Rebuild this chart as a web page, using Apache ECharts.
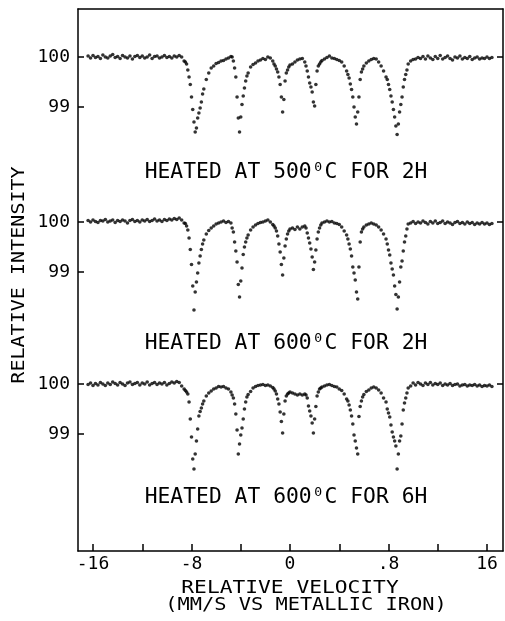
<!DOCTYPE html>
<html>
<head>
<meta charset="utf-8">
<script src="https://cdn.jsdelivr.net/npm/echarts@6/dist/echarts.min.js"></script>
<style>
html,body{margin:0;padding:0;background:#fff;}
#chart{width:505px;height:621px;}
</style>
</head>
<body>
<div id="chart"></div>
<script>
// ---- DATA ----
const velocity = [
-16.4,-16.2,-16.0,-15.8,-15.6,-15.4,-15.2,-15.0,-14.8,-14.6,
-14.4,-14.2,-14.0,-13.8,-13.6,-13.4,-13.2,-13.0,-12.8,-12.6,
-12.4,-12.2,-12.0,-11.8,-11.6,-11.4,-11.2,-11.0,-10.8,-10.6,
-10.4,-10.2,-10.0,-9.8,-9.6,-9.4,-9.2,-9.0,-8.8,-8.6,
-8.5,-8.4,-8.3,-8.2,-8.1,-8.0,-7.9,-7.8,-7.7,-7.6,-7.5,-7.4,-7.3,-7.2,-7.1,-7.0,
-6.8,-6.6,-6.4,-6.2,-6.0,-5.8,-5.6,-5.4,-5.2,-5.0,-4.8,
-4.7,-4.6,-4.5,-4.4,-4.3,-4.2,-4.1,-4.0,-3.9,-3.8,-3.7,-3.6,-3.5,-3.4,
-3.2,-3.0,-2.8,-2.6,-2.4,-2.2,-2.0,-1.8,-1.6,-1.4,
-1.3,-1.2,-1.1,-1.0,-0.9,-0.8,-0.7,-0.6,-0.5,-0.4,-0.3,-0.2,-0.1,
0.0,0.2,0.4,0.6,0.8,1.0,1.2,
1.3,1.4,1.5,1.6,1.7,1.8,1.9,2.0,2.1,2.2,2.3,2.4,2.5,
2.6,2.8,3.0,3.2,3.4,3.6,3.8,4.0,4.2,4.4,4.6,
4.7,4.8,4.9,5.0,5.1,5.2,5.3,5.4,5.5,5.6,5.7,5.8,5.9,
6.0,6.2,6.4,6.6,6.8,7.0,7.2,7.4,7.6,7.8,
7.9,8.0,8.1,8.2,8.3,8.4,8.5,8.6,8.7,8.8,8.9,9.0,9.1,9.2,9.3,9.4,9.5,9.6,
9.8,10.0,10.2,10.4,10.6,10.8,11.0,11.2,11.4,11.6,11.8,12.0,12.2,12.4,12.6,12.8,13.0,
13.2,13.4,13.6,13.8,14.0,14.2,14.4,14.6,14.8,15.0,15.2,15.4,15.6,15.8,16.0,16.2,16.4
];

const heated500C2h = [
100.02,99.98,100.03,99.99,100.01,99.97,100.04,100.0,99.98,100.02,
100.05,99.99,100.01,99.97,100.03,100.0,99.98,100.02,99.96,100.01,
100.03,99.99,100.02,99.98,100.0,100.04,99.97,100.01,100.02,99.98,
100.0,100.03,99.99,100.01,99.98,100.02,100.0,100.03,100.0,99.92,
99.90,99.86,99.74,99.6,99.45,99.2,98.95,98.7,98.5,98.58,98.78,98.88,98.98,99.1,99.26,99.36,
99.55,99.68,99.78,99.82,99.87,99.89,99.92,99.93,99.96,99.98,100.01,
100.0,99.92,99.78,99.6,99.2,98.78,98.5,98.8,99.05,99.22,99.38,99.52,99.62,99.68,
99.8,99.85,99.88,99.92,99.94,99.97,99.95,100.0,99.98,99.92,
99.86,99.82,99.76,99.7,99.6,99.45,99.2,98.9,99.15,99.52,99.68,99.74,99.8,
99.84,99.86,99.9,99.94,99.96,99.97,99.9,
99.82,99.72,99.6,99.48,99.4,99.3,99.1,99.02,99.45,99.72,99.82,99.86,99.9,
99.93,99.96,99.99,100.02,99.98,99.97,99.95,99.93,99.9,99.82,99.72,
99.65,99.58,99.46,99.35,99.2,99.0,98.8,98.66,98.9,99.2,99.55,99.7,99.76,
99.82,99.88,99.92,99.95,99.97,99.96,99.9,99.82,99.72,99.6,
99.55,99.45,99.35,99.22,99.1,98.95,98.8,98.62,98.45,98.66,98.9,99.05,99.2,99.4,99.55,99.65,99.74,99.86,
99.92,99.95,99.96,99.99,99.97,100.01,99.96,100.02,99.98,99.95,100.01,99.97,100.03,99.96,99.99,100.02,99.97,
99.94,100.0,99.98,100.02,99.96,99.99,99.97,100.01,99.95,99.98,100.0,99.96,99.98,99.97,100.0,99.97,99.99
];

const heated600C2h = [
100.03,100.0,100.04,100.01,99.99,100.03,100.02,100.05,100.0,100.02,
100.04,99.99,100.03,100.01,100.04,100.02,99.98,100.03,100.05,100.01,
100.03,100.0,100.04,100.02,100.05,100.01,100.03,100.06,100.02,100.04,
100.01,100.05,100.03,100.06,100.04,100.07,100.05,100.08,100.04,99.98,
99.97,99.92,99.84,99.68,99.45,99.15,98.72,98.24,98.6,98.8,98.98,99.18,99.32,99.45,99.56,99.64,
99.76,99.83,99.88,99.92,99.96,99.98,100.0,100.02,99.99,100.01,99.98,
99.88,99.8,99.6,99.42,99.2,98.75,98.5,98.82,99.08,99.35,99.5,99.6,99.68,99.74,
99.84,99.9,99.94,99.97,99.99,100.0,100.02,100.04,100.0,99.95,
99.92,99.88,99.82,99.72,99.56,99.4,99.15,98.94,99.28,99.52,99.66,99.76,99.82,
99.86,99.88,99.85,99.9,99.86,99.9,99.92,
99.88,99.78,99.68,99.58,99.46,99.3,99.05,99.2,99.44,99.66,99.8,99.88,99.94,
99.98,100.0,100.02,100.0,100.01,99.98,99.97,99.95,99.9,99.82,99.74,
99.66,99.56,99.46,99.32,99.1,98.98,98.84,98.6,98.46,99.1,99.6,99.8,99.86,
99.9,99.94,99.96,99.98,99.96,99.94,99.9,99.84,99.76,99.66,
99.56,99.44,99.34,99.18,99.06,98.94,98.72,98.55,98.26,98.5,98.8,99.1,99.22,99.42,99.6,99.72,99.86,99.96,
99.98,100.01,99.97,100.0,99.98,100.02,99.99,99.96,100.01,99.98,100.02,99.97,99.99,100.02,99.97,100.0,99.98,
99.95,99.99,100.01,99.97,99.99,99.96,100.0,99.97,99.99,99.95,99.98,99.96,99.99,99.96,99.98,99.95,99.97
];

const heated600C6h = [
99.99,100.02,99.97,100.01,99.98,100.03,100.0,99.97,100.02,99.99,
100.04,100.01,99.98,100.03,100.0,99.97,100.02,100.04,99.99,100.01,
100.03,99.98,100.02,100.0,100.04,99.98,100.01,100.03,99.99,100.02,
100.0,100.03,99.98,100.01,100.04,100.02,100.05,100.03,99.96,99.9,
99.87,99.84,99.8,99.64,99.3,98.94,98.5,98.3,98.6,98.86,99.1,99.36,99.45,99.52,99.6,99.66,
99.76,99.82,99.86,99.9,99.92,99.95,99.94,99.95,99.92,99.9,99.84,
99.78,99.72,99.6,99.4,99.08,98.6,98.8,98.98,99.12,99.3,99.5,99.64,99.74,99.79,
99.85,99.92,99.95,99.97,99.98,99.99,99.97,99.98,99.96,99.93,
99.9,99.86,99.8,99.7,99.6,99.44,99.25,99.02,99.4,99.66,99.76,99.8,99.82,
99.84,99.82,99.8,99.78,99.8,99.78,99.8,
99.78,99.72,99.56,99.46,99.36,99.22,99.02,99.3,99.55,99.76,99.84,99.9,99.92,
99.94,99.96,99.98,99.99,99.97,99.95,99.94,99.9,99.87,99.8,99.7,
99.66,99.58,99.48,99.36,99.2,98.98,98.86,98.72,98.6,99.35,99.55,99.66,99.74,
99.79,99.85,99.88,99.92,99.94,99.92,99.88,99.82,99.72,99.64,
99.5,99.42,99.34,99.18,99.04,98.94,98.86,98.76,98.3,98.6,98.86,98.96,99.2,99.48,99.62,99.72,99.82,99.92,
99.96,100.02,99.98,100.03,100.0,99.97,100.02,99.99,100.03,99.98,100.01,99.99,100.02,99.97,100.0,99.98,100.01,
99.97,99.99,100.0,99.96,99.98,99.99,99.96,99.98,99.97,99.99,99.96,99.98,99.95,99.97,99.96,99.98,99.95
];

const spectrumTitles = ['HEATED AT 500\u2070C FOR 2H', 'HEATED AT 600\u2070C FOR 2H', 'HEATED AT 600\u2070C FOR 6H'];
const xTickValues = [-16, -12, -8, -4, 0, 4, 8, 12, 16];
const xLabelValues = [-16, -8, 0, 8, 16];
const xLabelTexts = ['-16', '-8', '0', '.8', '16'];
const yTickIntensity = [100, 99];
const yTickTexts = ['100', '99'];
const xAxisTitle = 'RELATIVE VELOCITY';
const xAxisSubtitle = '(MM/S VS METALLIC IRON)';
const yAxisTitle = 'RELATIVE INTENSITY';

// ---- LAYOUT (vertical stacking offsets of each spectrum, in % units) ----
const stackOffsets = [0, 3.3, 6.54];
const titleY = [172, 343, 497];
const FONT = 'DejaVu Sans Mono';

const spectra = [heated500C2h, heated600C2h, heated600C6h];

const yTickValues = [];
const yTickLabels = [];
stackOffsets.forEach(off => {
  yTickIntensity.forEach((t, k) => { yTickValues.push(+(t - off).toFixed(4)); yTickLabels.push(yTickTexts[k]); });
});
const baseTicks = stackOffsets.map(off => +(100 - off).toFixed(4));

function lookup(vals, texts, v) {
  const i = vals.findIndex(t => Math.abs(t - v) < 1e-6);
  return i >= 0 ? texts[i] : '';
}

const series = spectra.map((arr, s) => ({
  type: 'scatter',
  symbol: 'circle',
  symbolSize: 3.6,
  silent: true,
  itemStyle: { color: '#000' },
  data: velocity.map((v, i) => [v, arr[i] - stackOffsets[s]])
}));

const chart = echarts.init(document.getElementById('chart'), null, { renderer: 'canvas' });
const axisLine = { show: true, onZero: false, lineStyle: { color: '#000', width: 1.5 } };

chart.setOption({
  backgroundColor: '#fff',
  animation: false,
  grid: { left: 78, right: 2, top: 9, bottom: 70, outerBoundsMode: 'none' },
  xAxis: [
    {
      type: 'value', min: -17.22, max: 17.30, position: 'bottom',
      axisLine: axisLine,
      axisTick: { show: true, inside: true, length: 7, customValues: xTickValues, lineStyle: { color: '#000', width: 1.5 } },
      axisLabel: {
        customValues: xLabelValues,
        formatter: v => lookup(xLabelValues, xLabelTexts, v),
        fontFamily: FONT, fontSize: 18, color: '#000', margin: 4
      },
      splitLine: { show: false }
    },
    {
      type: 'value', min: -17.22, max: 17.30, position: 'top',
      axisLine: axisLine, axisTick: { show: false }, axisLabel: { show: false }, splitLine: { show: false }
    }
  ],
  yAxis: [
    {
      type: 'value', min: 90.12, max: 100.96, position: 'left',
      axisLine: axisLine,
      axisTick: { show: true, inside: true, length: 6, customValues: yTickValues, lineStyle: { color: '#000', width: 1.5 } },
      axisLabel: {
        customValues: yTickValues,
        formatter: v => lookup(yTickValues, yTickLabels, v),
        fontFamily: FONT, fontSize: 18, color: '#000', margin: 8
      },
      splitLine: { show: false }
    },
    {
      type: 'value', min: 90.12, max: 100.96, position: 'right',
      axisLine: axisLine,
      axisTick: { show: true, inside: true, length: 6, customValues: baseTicks, lineStyle: { color: '#000', width: 1.5 } },
      axisLabel: { show: false }, splitLine: { show: false }
    }
  ],
  series: series,
  graphic: [
    ...spectrumTitles.map((t, i) => ({
      type: 'text', x: 286, y: titleY[i], scaleX: 0.97, silent: true,
      style: { text: t, fontFamily: FONT, fontSize: 22, fill: '#000', align: 'center', verticalAlign: 'middle', textAlign: 'center', textVerticalAlign: 'middle' }
    })),
    {
      type: 'text', x: 290, y: 588, scaleX: 1.18, silent: true,
      style: { text: xAxisTitle, fontFamily: FONT, fontSize: 18, fill: '#000', align: 'center', verticalAlign: 'middle', textAlign: 'center', textVerticalAlign: 'middle' }
    },
    {
      type: 'text', x: 306, y: 605, scaleX: 1.13, silent: true,
      style: { text: xAxisSubtitle, fontFamily: FONT, fontSize: 18, fill: '#000', align: 'center', verticalAlign: 'middle', textAlign: 'center', textVerticalAlign: 'middle' }
    },
    {
      type: 'text', x: 20, y: 275, rotation: Math.PI / 2, scaleX: 1.18, silent: true,
      style: { text: yAxisTitle, fontFamily: FONT, fontSize: 17, fill: '#000', align: 'center', verticalAlign: 'middle', textAlign: 'center', textVerticalAlign: 'middle' }
    }
  ]
});
</script>
</body>
</html>
